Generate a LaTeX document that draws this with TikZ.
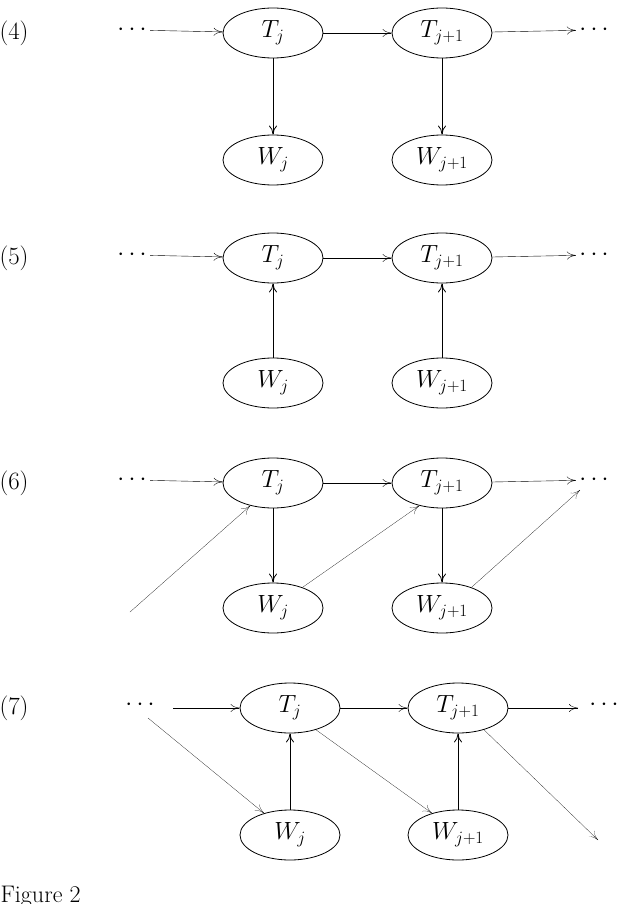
\documentclass[tikz,border=0pt]{standalone}
\usetikzlibrary{arrows.meta,shapes.geometric}
\begin{document}
\begin{tikzpicture}[x=1pt,y=-1pt,
	bigfont/.style={font=\fontsize{24}{28}\selectfont},
	var/.style={ellipse,draw,thick,minimum width=100pt,minimum height=50pt,inner sep=0pt,bigfont},
	lbl/.style={bigfont,anchor=west},
	every path/.style={>={To[length=9pt,width=8pt]}},
	thin arrow/.style={->,very thin}]
	\useasboundingbox (0,0) rectangle (616,904);

	% (4)
	\node [lbl] at (-4,33) {$(4)$};
	\node [bigfont] (d4l) at (132,30) {$\cdots$};
	\node [bigfont] (d4r) at (594,30) {$\cdots$};
	\node [var] (t4a) at (273,33) {$T_j$};
	\node [var] (t4b) at (442,33) {$T_{j+1}$};
	\node [var] (w4a) at (273,160) {$W_j$};
	\node [var] (w4b) at (442,160) {$W_{j+1}$};
	\draw [->] (d4l) -- (t4a) ;
	\draw [->] (t4a) -- (t4b) ;
	\draw [->] (t4b) -- (d4r) ;
	\draw [->, thick] (t4a) -- (w4a) ;
	\draw [->, thick] (t4b) -- (w4b) ;

	% (5)
	\node [lbl] at (-4,258) {$(5)$};
	\node [bigfont] (d5l) at (132,255) {$\cdots$};
	\node [bigfont] (d5r) at (594,255) {$\cdots$};
	\node [var] (t5a) at (273,258) {$T_j$};
	\node [var] (t5b) at (442,258) {$T_{j+1}$};
	\node [var] (w5a) at (273,383) {$W_j$};
	\node [var] (w5b) at (442,383) {$W_{j+1}$};
	\draw [->] (d5l) -- (t5a) ;
	\draw [->] (t5a) -- (t5b) ;
	\draw [->] (t5b) -- (d5r) ;
	\draw [->, thick] (w5a) -- (t5a) ;
	\draw [->, thick] (w5b) -- (t5b) ;

	% (6)
	\node [lbl] at (-4,483) {$(6)$};
	\node [bigfont] (d6l) at (132,480) {$\cdots$};
	\node [bigfont] (d6r) at (594,480) {$\cdots$};
	\node [var] (t6a) at (273,483) {$T_j$};
	\node [var] (t6b) at (442,483) {$T_{j+1}$};
	\node [var] (w6a) at (273,608) {$W_j$};
	\node [var] (w6b) at (442,608) {$W_{j+1}$};
	\coordinate (s6) at (130,612) ;
	\coordinate (e6) at (580,490) ;
	\draw [->] (d6l) -- (t6a) ;
	\draw [->] (t6a) -- (t6b) ;
	\draw [->] (t6b) -- (d6r) ;
	\draw [->, thick] (t6a) -- (w6a) ;
	\draw [->, thick] (t6b) -- (w6b) ;
	\draw [thin arrow] (s6) -- (t6a.-135) ;
	\draw [thin arrow] (w6a.35) -- (t6b.-135) ;
	\draw [thin arrow] (w6b.35) -- (e6) ;

	% (7)
	\node [lbl] at (-4,708) {$(7)$};
	\node [bigfont] (d7l) at (140,705) {$\cdots$};
	\node [bigfont] (d7r) at (604,705) {$\cdots$};
	\node [var] (t7a) at (290,708) {$T_j$};
	\node [var] (t7b) at (458,708) {$T_{j+1}$};
	\node [var] (w7a) at (290,835) {$W_j$};
	\node [var] (w7b) at (458,835) {$W_{j+1}$};
	\coordinate (a7) at (173,708) ;
	\coordinate (b7) at (578,708) ;
	\coordinate (s7) at (148,718) ;
	\coordinate (e7) at (598,840) ;
	\draw [->] (a7) -- (t7a) ;
	\draw [->] (t7a) -- (t7b) ;
	\draw [->] (t7b) -- (b7) ;
	\draw [->, thick] (w7a) -- (t7a) ;
	\draw [->, thick] (w7b) -- (t7b) ;
	\draw [thin arrow] (s7) -- (w7a.140) ;
	\draw [thin arrow] (t7a.-40) -- (w7b.140) ;
	\draw [thin arrow] (t7b.-40) -- (e7) ;

	\node [lbl, anchor=base west] at (-3,902) {Figure 2};
\end{tikzpicture}
\end{document}
